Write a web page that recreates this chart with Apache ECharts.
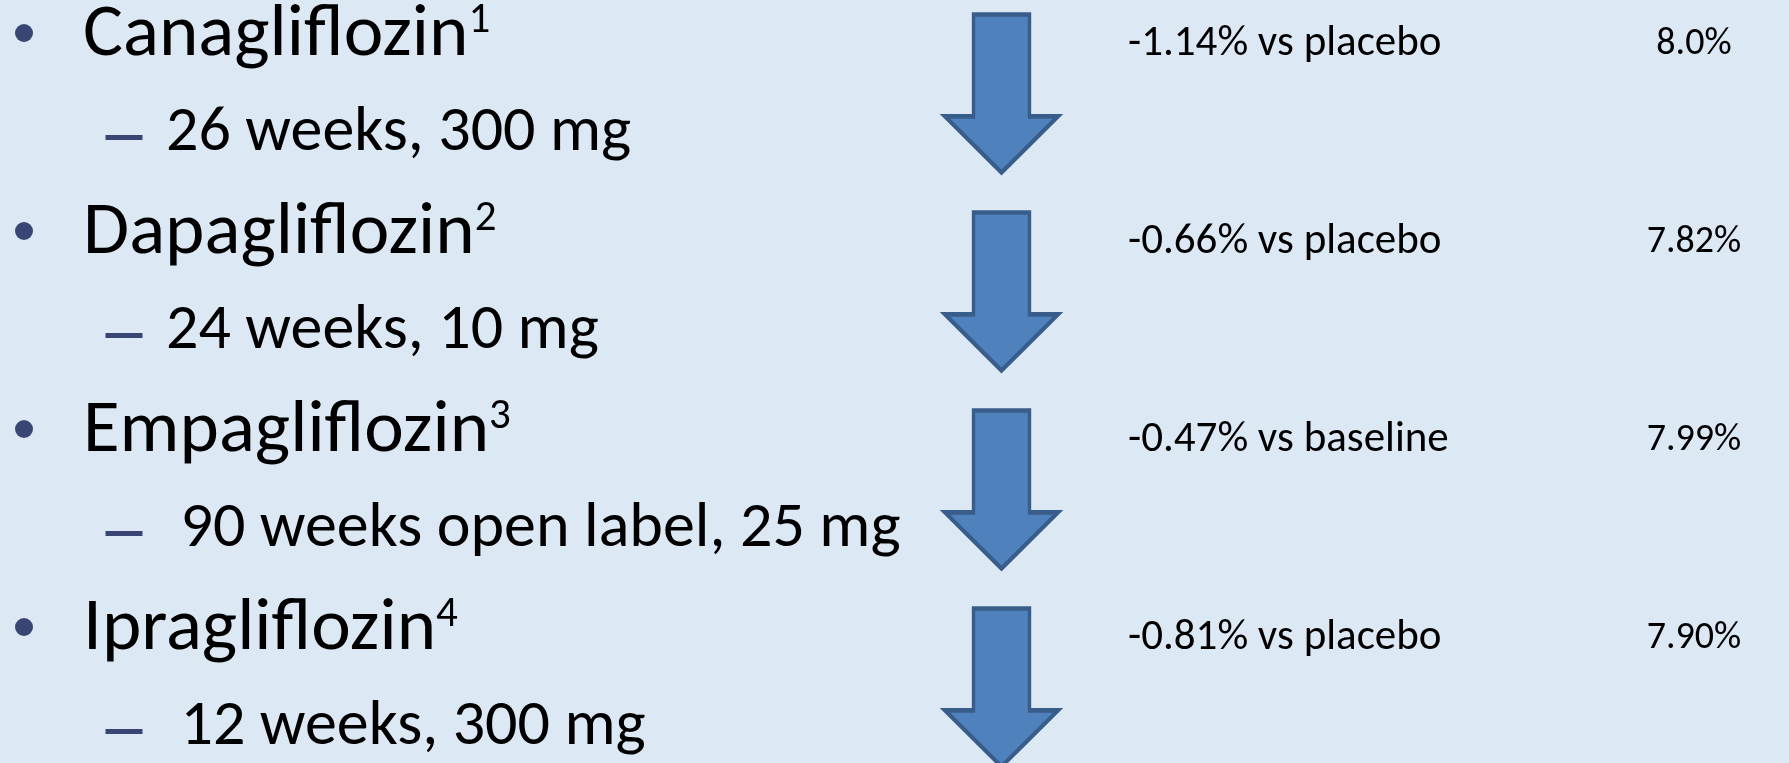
<!DOCTYPE html>
<html>
<head>
<meta charset="utf-8">
<title>SGLT2 inhibitors – HbA1c reduction</title>
<script src="https://cdn.jsdelivr.net/npm/echarts@6/dist/echarts.min.js"></script>
<style>
  html, body { margin: 0; padding: 0; background: #dde8f5; }
  #chart { width: 1789px; height: 763px; }
</style>
</head>
<body>
<div id="chart"></div>
<script>
// ---- data ----
const drugs = ['Canagliflozin', 'Dapagliflozin', 'Empagliflozin', 'Ipragliflozin'];
const refMarks = ['1', '2', '3', '4'];
const regimens = ['26 weeks, 300 mg', '24 weeks, 10 mg', ' 90 weeks open label, 25 mg', ' 12 weeks, 300 mg'];
const hba1cChange = [-1.14, -0.66, -0.47, -0.81];
const comparators = ['placebo', 'placebo', 'baseline', 'placebo'];
const baselineHbA1c = ['8.0%', '7.82%', '7.99%', '7.90%'];

// ---- layout ----
const W = 1789, H = 763;
const ROW_PITCH = 198;      // px between rows
const FIRST_ROW = 91;       // px from top to centre of first row
const COL = { bullet: 24, dash: 124, title: 83, sub: 166, arrow: 1001.5, change: 1128, base: 1694 };
const FONT = 'Carlito, Lato, "Open Sans", sans-serif';
const INK = '#000000';
const NAVY = '#394673';

const yMin = -FIRST_ROW / ROW_PITCH;
const yMax = yMin + H / ROW_PITCH;
const rows = drugs.map((d, i) => i);

const chart = echarts.init(document.getElementById('chart'), null, { renderer: 'canvas' });

function textSeries(name, x, formatter, style) {
  return {
    name, type: 'scatter', symbolSize: 1, silent: true,
    itemStyle: { color: 'rgba(0,0,0,0)', opacity: 1 },
    data: rows.map(i => [x, i]),
    label: Object.assign({
      show: true, position: 'inside', align: 'left', verticalAlign: 'middle',
      color: INK, opacity: 1, fontFamily: FONT, textBorderWidth: 0, textShadowBlur: 0,
      formatter: p => formatter(p.dataIndex)
    }, style),
    z: 5
  };
}

// block arrow pointing down: shaft, then a wide triangular head
const arrowPath = 'path://M31.5 2 L87.5 2 L87.5 102 L116 102 L59.5 157 L3 102 L31.5 102 Z';

chart.setOption({
  backgroundColor: '#dde8f5',
  animation: false,
  grid: { left: 0, right: 0, top: 0, bottom: 0, containLabel: false },
  xAxis: { type: 'value', min: 0, max: W, show: false },
  yAxis: { type: 'value', inverse: true, min: yMin, max: yMax, show: false },
  series: [
    {
      name: 'bullets', type: 'scatter', silent: true,
      symbol: 'circle', symbolSize: 18, symbolOffset: [0, -58],
      itemStyle: { color: NAVY, opacity: 1 },
      data: rows.map(i => [COL.bullet, i])
    },
    {
      name: 'dashes', type: 'scatter', silent: true,
      symbol: 'rect', symbolSize: [37, 5], symbolOffset: [0, 46.5],
      itemStyle: { color: NAVY, opacity: 1 },
      data: rows.map(i => [COL.dash, i])
    },
    textSeries('drug', COL.title, i => '{t|' + drugs[i] + '}{s|' + refMarks[i] + '}', {
      offset: [0, -54.5],
      rich: {
        t: { fontSize: 75, lineHeight: 74, verticalAlign: 'bottom', color: INK, fontFamily: FONT },
        s: { fontSize: 43, lineHeight: 24, verticalAlign: 'top', color: INK, fontFamily: FONT }
      }
    }),
    textSeries('regimen', COL.sub, i => regimens[i], { fontSize: 64, offset: [0, 43] }),
    {
      name: 'HbA1c change', type: 'scatter', silent: true,
      symbol: arrowPath, symbolSize: [113, 158], symbolKeepAspect: false, symbolOffset: [0, 2.5],
      itemStyle: { color: '#4f81bd', borderColor: '#385d8a', borderWidth: 4, opacity: 1 },
      data: rows.map(i => [COL.arrow, i]),
      z: 3
    },
    textSeries('change', COL.change,
      i => hba1cChange[i].toFixed(2) + '% vs ' + comparators[i],
      { fontSize: 43, offset: [0, -46.7] }),
    textSeries('baseline', COL.base, i => baselineHbA1c[i],
      { fontSize: 38, align: 'center', offset: [0, -47] })
  ]
});
</script>
</body>
</html>
